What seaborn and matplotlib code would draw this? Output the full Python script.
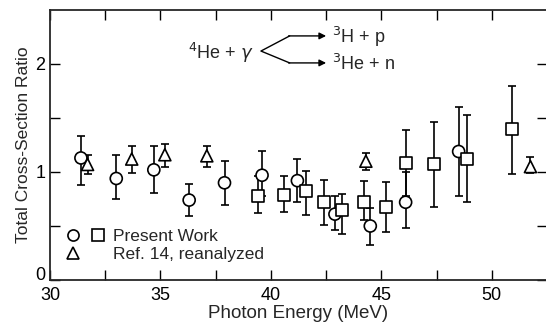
import matplotlib
matplotlib.use("Agg")
import pandas as pd
import matplotlib.pyplot as plt
import matplotlib.transforms as mtransforms
import seaborn as sns
from matplotlib.lines import Line2D
from matplotlib.legend_handler import HandlerTuple

# Present work, circles
circ_e = [31.4, 33.0, 34.7, 36.3, 37.9, 39.6, 41.2, 42.9, 44.5, 46.1, 48.5]
circ_r = [1.13, 0.94, 1.02, 0.74, 0.90, 0.97, 0.92, 0.61, 0.50, 0.72, 1.19]
circ_hi = [1.33, 1.16, 1.24, 0.89, 1.10, 1.19, 1.12, 0.78, 0.67, 1.00, 1.60]
circ_lo = [0.88, 0.75, 0.81, 0.59, 0.69, 0.78, 0.72, 0.46, 0.32, 0.48, 0.78]

# Present work, squares
sq_e = [39.4, 40.6, 41.6, 42.4, 43.2, 44.2, 45.2, 46.1, 47.4, 48.9, 50.9]
sq_r = [0.78, 0.79, 0.82, 0.72, 0.65, 0.72, 0.68, 1.08, 1.07, 1.12, 1.40]
sq_hi = [0.96, 0.96, 1.01, 0.93, 0.80, 0.92, 0.91, 1.39, 1.46, 1.53, 1.80]
sq_lo = [0.62, 0.63, 0.60, 0.51, 0.43, 0.56, 0.44, 0.78, 0.68, 0.72, 0.98]

# Ref. 14, reanalyzed (triangles)
tri_e = [31.7, 33.7, 35.2, 37.1, 44.3, 51.75]
tri_r = [1.07, 1.12, 1.16, 1.15, 1.10, 1.05]
tri_hi = [1.16, 1.24, 1.26, 1.24, 1.18, 1.14]
tri_lo = [0.98, 0.99, 1.05, 1.05, 1.02, 0.99]

df = pd.concat([
    pd.DataFrame({"E": circ_e, "R": circ_r, "hi": circ_hi, "lo": circ_lo, "kind": "circle"}),
    pd.DataFrame({"E": sq_e, "R": sq_r, "hi": sq_hi, "lo": sq_lo, "kind": "square"}),
    pd.DataFrame({"E": tri_e, "R": tri_r, "hi": tri_hi, "lo": tri_lo, "kind": "triangle"}),
], ignore_index=True)

sns.set_theme(style="ticks")
plt.rcParams["font.family"] = ["Liberation Sans", "DejaVu Sans"]

fig = plt.figure(figsize=(5.46, 3.26), dpi=100)
ax = fig.add_axes([50 / 546, 46 / 326, 497 / 546, 270 / 326])

ax.errorbar(df["E"], df["R"], yerr=[df["R"] - df["lo"], df["hi"] - df["R"]],
            fmt="none", ecolor="black", elinewidth=1.2, capsize=3, capthick=1.2, zorder=2)

sns.scatterplot(data=df, x="E", y="R", style="kind",
                markers={"circle": "o", "square": "s", "triangle": "^"},
                color="white", edgecolor="black", linewidth=1.2, s=75,
                legend=False, ax=ax, zorder=3)

ax.set_xlim(30, 52.5)
ax.set_ylim(0, 2.5)
ax.set_xticks([30, 35, 40, 45, 50])
ax.set_xticks([32.5, 37.5, 42.5, 47.5, 52.5], minor=True)
ax.set_yticks([0, 1, 2])
ax.set_yticks([0.5, 1.5], minor=True)
ax.tick_params(which="both", direction="in", top=True, right=True,
               length=7, width=1, labelsize=13, colors="black")
ax.tick_params(axis="x", pad=5)
for s in ax.spines.values():
    s.set_linewidth(1.3)
ax.set_xlabel("Photon Energy (MeV)", fontsize=13.5, labelpad=1)
ax.set_ylabel("Total Cross-Section Ratio", fontsize=12.5, labelpad=3)

# lift the "0" label a little so it clears the "30" below it
zero_lbl = ax.get_yticklabels()[0]
zero_lbl.set_transform(zero_lbl.get_transform() +
                       mtransforms.ScaledTranslation(0, 5 / 72, fig.dpi_scale_trans))

# reaction annotation
ax.text(39.2, 2.10, r"$^4$He + $\gamma$", fontsize=13, ha="right", va="center")
ax.plot([40.85, 39.55, 40.85], [2.26, 2.12, 2.01], color="black", lw=1)
for yy in (2.26, 2.01):
    ax.annotate("", xy=(42.5, yy), xytext=(40.8, yy),
                arrowprops=dict(arrowstyle="-|>", color="black", lw=1,
                                mutation_scale=10, shrinkA=0, shrinkB=0))
ax.text(42.75, 2.25, r"$^3$H + p", fontsize=13, ha="left", va="center")
ax.text(42.75, 2.00, r"$^3$He + n", fontsize=13, ha="left", va="center")

# legend
kw = dict(linestyle="none", markerfacecolor="white", markeredgecolor="black",
          markeredgewidth=1.2, markersize=8)
h1 = (Line2D([], [], marker="o", **kw), Line2D([], [], marker="s", **kw))
h2 = (Line2D([], [], marker="^", **kw), Line2D([], [], marker="", **kw))
ax.legend([h1, h2], ["Present Work", "Ref. 14, reanalyzed"],
          handler_map={tuple: HandlerTuple(ndivide=None, pad=0.4)},
          loc="lower left", bbox_to_anchor=(0.005, 0.02), frameon=False,
          fontsize=12.5, handlelength=2.4, handletextpad=0.4,
          labelspacing=0.2, borderpad=0.2)

fig.savefig("out.png", dpi=100)
